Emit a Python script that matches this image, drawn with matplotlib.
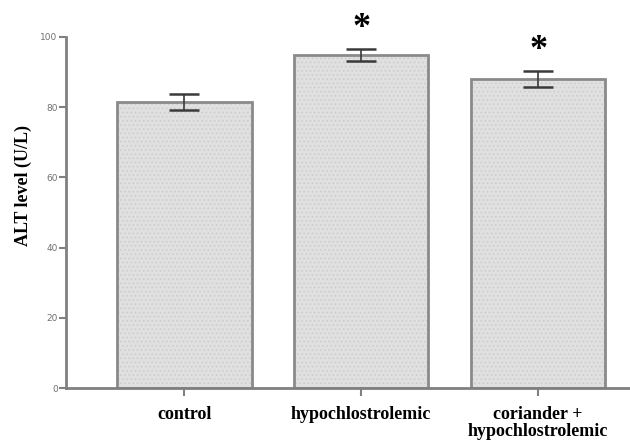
import matplotlib
matplotlib.use("Agg")
import matplotlib.pyplot as plt
import matplotlib.transforms as mtransforms

categories = ["control", "hypochlostrolemic", "coriander +\nhypochlostrolemic"]
means = [81.5, 95.0, 88.0]
errors = [2.3, 1.7, 2.3]
stars = ["", "*", "*"]
yticks = [0, 20, 40, 60, 80, 100]

plt.rcParams['hatch.linewidth'] = 0.6

fig = plt.figure(figsize=(6.3, 4.42), dpi=100)
ax = fig.add_axes([66/630, 1-388/442, 1-66/630, (388-37)/442])

x = list(range(len(categories)))
# textured fill
ax.bar(x, means, width=0.76, color="#e0e0e0", edgecolor="#cbcbcb", linewidth=0,
       hatch="....", zorder=2)
# outline
ax.bar(x, means, width=0.76, fill=False, edgecolor="#8a8a8a", linewidth=2.0, zorder=2.5)
ax.errorbar(x, means, yerr=errors, fmt="none", ecolor="#3a3a3a", elinewidth=1.2,
            capsize=10.5, capthick=1.8, zorder=3)
for xi, m, e, s in zip(x, means, errors, stars):
    if s:
        ax.text(xi, m + e + 5.8, s, ha="center", va="center", fontsize=26,
                fontweight="bold", family="Liberation Serif", clip_on=False)

ax.set_xlim(-0.67, 2.52)
ax.set_ylim(0, 100)
ax.set_yticks(yticks)
ax.set_yticklabels([str(t) for t in yticks], fontsize=6.5, color="#707070",
                   family="DejaVu Sans")
ax.set_xticks(x)
ax.set_xticklabels(categories, fontsize=13, fontweight="bold",
                   family="Liberation Serif", linespacing=1.0)
labels = ax.get_xticklabels()
labels[2].set_transform(labels[2].get_transform() +
                        mtransforms.ScaledTranslation(10/100, 0, fig.dpi_scale_trans))
ax.tick_params(axis="y", length=5, width=1.5, color="#808080", pad=1)
ax.tick_params(axis="x", length=6, width=1.5, color="#808080", pad=7)
ax.set_ylabel("ALT level (U/L)", fontsize=13, fontweight="bold",
              family="Liberation Serif")
ax.yaxis.set_label_coords(-0.060, 0.578)

for side in ["top", "right"]:
    ax.spines[side].set_visible(False)
for side in ["left", "bottom"]:
    ax.spines[side].set_color("#808080")
    ax.spines[side].set_linewidth(2)

fig.savefig("out.png", dpi=100)
